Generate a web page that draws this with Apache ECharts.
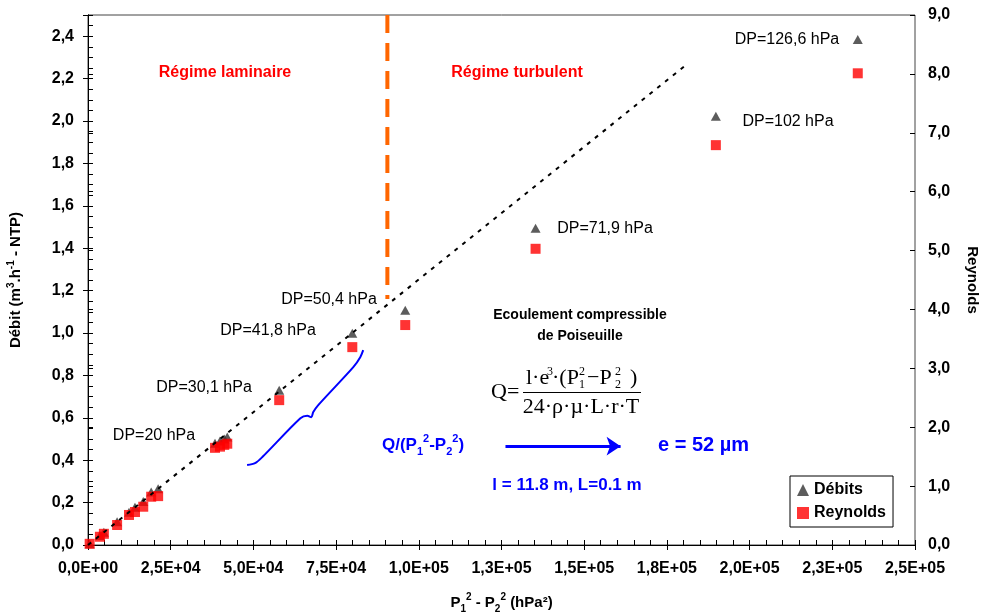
<!DOCTYPE html>
<html>
<head>
<meta charset="utf-8">
<script src="https://cdn.jsdelivr.net/npm/echarts@6/dist/echarts.min.js"></script>
<style>
  html, body { margin: 0; padding: 0; background: #fff; }
  #chart { width: 981px; height: 615px; }
</style>
</head>
<body>
<div id="chart"></div>
<script>
  // P1² - P2² (hPa²)
  var pressureX = [500, 3600, 4800, 8800, 12400, 14200, 16700, 19100, 21200, 38400, 39900, 41200, 42100, 57800, 79900, 95900, 135300, 189800, 232700];
  // débit (m3/h NTP), axe gauche
  var debits = [0.006, 0.045, 0.06, 0.11, 0.155, 0.178, 0.205, 0.25, 0.265, 0.48, 0.49, 0.50, 0.51, 0.73, 0.999, 1.107, 1.494, 2.022, 2.385];
  // Reynolds, axe droit
  var reynolds = [0.02, 0.14, 0.19, 0.34, 0.51, 0.56, 0.65, 0.82, 0.83, 1.65, 1.67, 1.70, 1.72, 2.46, 3.36, 3.735, 5.03, 6.79, 8.01];

  // droite de Poiseuille (pointillés)
  var fitX = [0, 181000];
  var fitY = [0, 2.267];
  // limite laminaire / turbulent
  var limitX = [90500, 90500];
  var limitY = [2.5, 1.16];
  // accolade bleue
  var braceX = [48100, 50500, 52700, 64200, 66300, 67500, 68100, 69600, 80200, 82300, 83200];
  var braceY = [0.377, 0.386, 0.415, 0.598, 0.610, 0.603, 0.627, 0.660, 0.839, 0.886, 0.919];
  // flèche
  var arrowX = [126200, 161000];
  var arrowY = [0.466, 0.466];

  var dpLabels = ['DP=126,6 hPa', 'DP=102 hPa', 'DP=71,9 hPa', 'DP=50,4 hPa', 'DP=41,8 hPa', 'DP=30,1 hPa', 'DP=20 hPa'];

  var SANS = "'Liberation Sans', Arial, sans-serif";
  var SERIF = "'Liberation Serif', 'Times New Roman', serif";

  function zip(xs, ys) {
    return xs.map(function (x, i) { return [x, ys[i]]; });
  }

  function fmtSci(v) {
    var s = Number(v).toExponential(1).replace('.', ',');
    return s.replace(/e([+-])(\d+)/, function (m, sign, d) {
      return 'E' + sign + (d.length < 2 ? '0' + d : d);
    });
  }

  function fmtLeft(v) {
    var k = v / 0.2;
    if (Math.abs(k - Math.round(k)) > 1e-6) return '';
    return v.toFixed(1).replace('.', ',');
  }

  function txt(text, x, y, font, fill, align) {
    return {
      type: 'text', z: 100,
      style: {
        text: text, x: x, y: y, font: font, fill: fill || '#000',
        align: align || 'left', textAlign: align || 'left',
        verticalAlign: 'middle', textVerticalAlign: 'middle'
      }
    };
  }

  var chartDom = document.getElementById('chart');
  var myChart = echarts.init(chartDom);
  var option;

  var labelStyle = { fontFamily: SANS, fontWeight: 'bold', fontSize: 16, color: '#000' };

  option = {
    backgroundColor: '#fff',
    animation: false,
    grid: {
      left: 88, right: 66, top: 15, bottom: 70,
      containLabel: false, outerBoundsMode: 'none',
      show: true, borderColor: '#444', borderWidth: 1, backgroundColor: 'transparent'
    },
    legend: {
      data: ['Débits', 'Reynolds'],
      orient: 'vertical',
      left: 790, top: 476,
      padding: [6, 7, 6, 7],
      itemGap: 7,
      itemWidth: 12, itemHeight: 12,
      borderColor: '#000', borderWidth: 1,
      backgroundColor: '#fff',
      selectedMode: false,
      textStyle: { fontFamily: SANS, fontWeight: 'bold', fontSize: 16, color: '#000' }
    },
    xAxis: [
      {
        type: 'value', min: 0, max: 250000, interval: 25000,
        position: 'bottom',
        name: '{b|P}{sub|1}{sup|2}{b| - P}{sub|2}{sup|2}{b| (hPa²)}',
        nameLocation: 'middle', nameGap: 47,
        nameTextStyle: {
          fontFamily: SANS, fontWeight: 'bold', fontSize: 15, color: '#000',
          rich: {
            b: { fontFamily: SANS, fontWeight: 'bold', fontSize: 15, lineHeight: 22, verticalAlign: 'middle' },
            sub: { fontFamily: SANS, fontWeight: 'bold', fontSize: 10, lineHeight: 22, verticalAlign: 'bottom' },
            sup: { fontFamily: SANS, fontWeight: 'bold', fontSize: 10, lineHeight: 22, verticalAlign: 'top' }
          }
        },
        axisLine: { lineStyle: { color: '#000', width: 1 } },
        axisTick: { show: true, inside: false, length: 5, lineStyle: { color: '#000' } },
        axisLabel: Object.assign({ margin: 16, formatter: fmtSci }, labelStyle),
        splitLine: { show: false }
      },
      {
        type: 'value', min: 0, max: 250000, interval: 25000,
        position: 'bottom',
        axisLine: { show: false },
        axisTick: { show: true, inside: true, length: 5, lineStyle: { color: '#000' } },
        minorTick: { show: true, splitNumber: 5, length: 5, lineStyle: { color: '#000' } },
        axisLabel: { show: false },
        splitLine: { show: false }
      }
    ],
    yAxis: [
      {
        type: 'value', min: 0, max: 2.5, interval: 0.2,
        position: 'left',
        name: '{b|Débit (m}{sup|3}{b|.h}{sup|-1}{b| - NTP)}',
        nameLocation: 'middle', nameGap: 62, nameRotate: 90,
        nameTextStyle: {
          fontFamily: SANS, fontWeight: 'bold', fontSize: 15, color: '#000',
          rich: {
            b: { fontFamily: SANS, fontWeight: 'bold', fontSize: 15, lineHeight: 20, verticalAlign: 'middle' },
            sup: { fontFamily: SANS, fontWeight: 'bold', fontSize: 10, lineHeight: 20, verticalAlign: 'top' }
          }
        },
        axisLine: { show: true, lineStyle: { color: '#000', width: 1 } },
        axisTick: { show: true, inside: false, length: 5, lineStyle: { color: '#000' } },
        axisLabel: Object.assign({ margin: 14, formatter: fmtLeft }, labelStyle),
        splitLine: { show: false }
      },
      {
        type: 'value', min: 0, max: 9, interval: 1,
        position: 'right',
        name: 'Reynolds',
        nameLocation: 'middle', nameGap: 50, nameRotate: -90,
        nameTextStyle: { fontFamily: SANS, fontWeight: 'bold', fontSize: 15, color: '#000' },
        axisLine: { show: true, lineStyle: { color: '#000', width: 1 } },
        axisTick: { show: true, inside: false, length: 5, lineStyle: { color: '#000' } },
        axisLabel: Object.assign({ margin: 13, formatter: function (v) { return v.toFixed(1).replace('.', ','); } }, labelStyle),
        splitLine: { show: false }
      },
      {
        type: 'value', min: 0, max: 2.5, interval: 0.2,
        position: 'left',
        axisLine: { show: false },
        axisTick: { show: true, inside: true, length: 5, lineStyle: { color: '#000' } },
        minorTick: { show: true, splitNumber: 4, length: 5, lineStyle: { color: '#000' } },
        axisLabel: { show: false },
        splitLine: { show: false }
      },
      {
        type: 'value', min: 0, max: 9, interval: 1,
        position: 'right',
        axisLine: { show: false },
        axisTick: { show: true, inside: true, length: 5, lineStyle: { color: '#000' } },
        axisLabel: { show: false },
        splitLine: { show: false }
      }
    ],
    series: [
      {
        name: 'Débits',
        type: 'scatter',
        xAxisIndex: 0, yAxisIndex: 0,
        symbol: 'triangle', symbolSize: [10, 9],
        itemStyle: { color: '#333' },
        z: 2,
        data: zip(pressureX, debits)
      },
      {
        name: 'Reynolds',
        type: 'scatter',
        xAxisIndex: 0, yAxisIndex: 1,
        symbol: 'rect', symbolSize: 10,
        itemStyle: { color: '#ff0000' },
        z: 2,
        data: zip(pressureX, reynolds)
      },
      {
        name: 'fit',
        type: 'line',
        xAxisIndex: 0, yAxisIndex: 0,
        showSymbol: false, symbol: 'none',
        lineStyle: { color: '#000', width: 2, type: [4, 6] },
        z: 4,
        data: zip(fitX, fitY)
      },
      {
        name: 'limite',
        type: 'line',
        xAxisIndex: 0, yAxisIndex: 0,
        showSymbol: false, symbol: 'none',
        lineStyle: { color: '#ff6600', width: 4, type: [18, 10] },
        z: 3,
        data: zip(limitX, limitY)
      },
      {
        name: 'accolade',
        type: 'line',
        xAxisIndex: 0, yAxisIndex: 0,
        showSymbol: false, symbol: 'none', smooth: 0.3,
        lineStyle: { color: '#0000ff', width: 2 },
        z: 3,
        data: zip(braceX, braceY)
      },
      {
        name: 'fleche',
        type: 'lines',
        coordinateSystem: 'cartesian2d',
        xAxisIndex: 0, yAxisIndex: 0,
        symbol: ['none', 'arrow'], symbolSize: 14,
        lineStyle: { color: '#0000ff', width: 3, opacity: 1 },
        z: 3,
        data: [{ coords: zip(arrowX, arrowY) }]
      }
    ],
    graphic: [
      txt('Régime laminaire', 225, 73, 'bold 16px ' + SANS, '#ff0000', 'center'),
      txt('Régime turbulent', 517, 73, 'bold 16px ' + SANS, '#ff0000', 'center'),
      txt(dpLabels[0], 787, 40, '16px ' + SANS, '#000', 'center'),
      txt(dpLabels[1], 788, 122, '16px ' + SANS, '#000', 'center'),
      txt(dpLabels[2], 605, 229, '16px ' + SANS, '#000', 'center'),
      txt(dpLabels[3], 329, 300, '16px ' + SANS, '#000', 'center'),
      txt(dpLabels[4], 268, 331, '16px ' + SANS, '#000', 'center'),
      txt(dpLabels[5], 204, 388, '16px ' + SANS, '#000', 'center'),
      txt(dpLabels[6], 154, 436, '16px ' + SANS, '#000', 'center'),
      txt('Ecoulement compressible', 580, 315, 'bold 14px ' + SANS, '#000', 'center'),
      txt('de Poiseuille', 580, 336, 'bold 14px ' + SANS, '#000', 'center'),
      // formule de Poiseuille
      txt('Q=', 491, 392, '22px ' + SERIF, '#000', 'left'),
      txt('l·e', 526, 378, '22px ' + SERIF, '#000', 'left'),
      txt('3', 547, 372, '12px ' + SERIF, '#000', 'left'),
      txt('·(P', 552, 378, '22px ' + SERIF, '#000', 'left'),
      txt('2', 579, 372, '12px ' + SERIF, '#000', 'left'),
      txt('1', 579, 385, '12px ' + SERIF, '#000', 'left'),
      txt('−P', 587, 378, '22px ' + SERIF, '#000', 'left'),
      txt('2', 615, 372, '12px ' + SERIF, '#000', 'left'),
      txt('2', 615, 385, '12px ' + SERIF, '#000', 'left'),
      txt(')', 630, 378, '22px ' + SERIF, '#000', 'left'),
      {
        type: 'line', z: 100,
        shape: { x1: 523, y1: 392.5, x2: 641, y2: 392.5 },
        style: { stroke: '#000', lineWidth: 1 }
      },
      txt('24·ρ·µ·L·r·T', 581, 407, '22px ' + SERIF, '#000', 'center'),
      {
        type: 'text', z: 100,
        style: {
          text: '{b|Q/(P}{sub|1}{sup|2}{b|-P}{sub|2}{sup|2}{b|)}',
          x: 382, y: 445,
          verticalAlign: 'middle', textVerticalAlign: 'middle',
          rich: {
            b: { font: 'bold 17px ' + SANS, fill: '#0000ff', lineHeight: 24, verticalAlign: 'middle' },
            sub: { font: 'bold 11px ' + SANS, fill: '#0000ff', lineHeight: 24, verticalAlign: 'bottom' },
            sup: { font: 'bold 11px ' + SANS, fill: '#0000ff', lineHeight: 24, verticalAlign: 'top' }
          }
        }
      },
      txt('e = 52 µm', 658, 445, 'bold 20px ' + SANS, '#0000ff', 'left'),
      txt('l = 11.8 m, L=0.1 m', 567, 485, 'bold 17px ' + SANS, '#0000ff', 'center')
    ]
  };

  option && myChart.setOption(option);
</script>
</body>
</html>
